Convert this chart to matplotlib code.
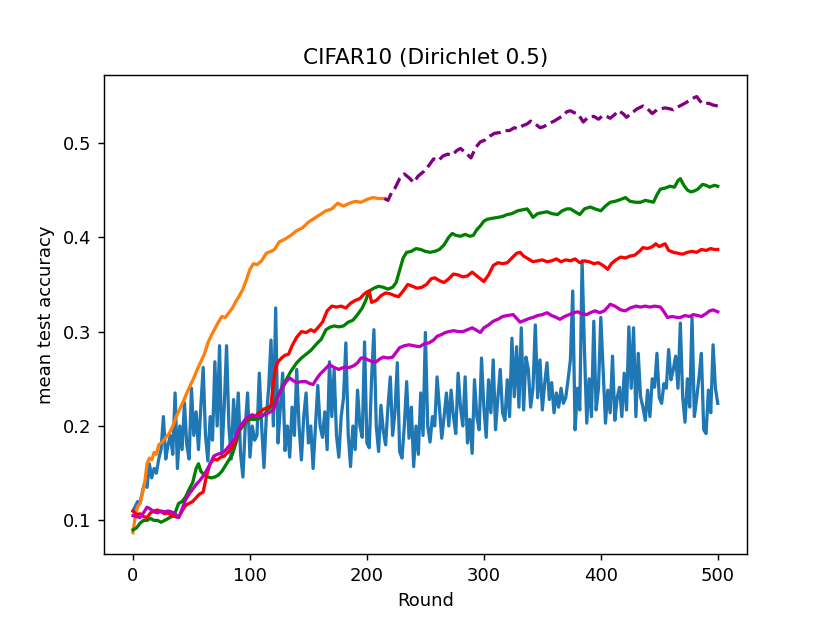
import matplotlib.pyplot as plt

# blue (noisy) series, every 2 rounds
blue_rounds = list(range(0, 501, 2))
blue_acc = [
    0.11, 0.115, 0.12, 0.118, 0.13, 0.14, 0.135, 0.16, 0.145, 0.155,
    0.15, 0.165, 0.175, 0.21, 0.165, 0.18, 0.19, 0.17, 0.235, 0.155,
    0.2, 0.175, 0.225, 0.18, 0.165, 0.24, 0.19, 0.215, 0.175, 0.22,
    0.262, 0.19, 0.163, 0.21, 0.185, 0.268, 0.2, 0.285, 0.17, 0.22,
    0.285, 0.2, 0.165, 0.228, 0.185, 0.235, 0.17, 0.146, 0.2, 0.235,
    0.167, 0.2, 0.185, 0.19, 0.256, 0.2, 0.156, 0.21, 0.24, 0.291,
    0.2, 0.325, 0.182, 0.22, 0.256, 0.174, 0.2, 0.167, 0.22, 0.19,
    0.26, 0.2, 0.164, 0.21, 0.235, 0.182, 0.2, 0.155, 0.2, 0.243,
    0.2, 0.188, 0.215, 0.175, 0.268, 0.21, 0.26, 0.19, 0.167, 0.21,
    0.23, 0.288, 0.192, 0.157, 0.2, 0.175, 0.238, 0.2, 0.188, 0.289,
    0.182, 0.177, 0.25, 0.302, 0.2, 0.173, 0.222, 0.195, 0.18, 0.22,
    0.252, 0.19, 0.215, 0.267, 0.173, 0.166, 0.2, 0.247, 0.187, 0.22,
    0.157, 0.2, 0.17, 0.235, 0.19, 0.299, 0.2, 0.183, 0.21, 0.2,
    0.252, 0.22, 0.187, 0.21, 0.235, 0.2, 0.238, 0.21, 0.192, 0.256,
    0.22, 0.2, 0.252, 0.182, 0.207, 0.171, 0.249, 0.21, 0.196, 0.272,
    0.22, 0.188, 0.249, 0.214, 0.27, 0.196, 0.23, 0.26, 0.214, 0.206,
    0.249, 0.21, 0.293, 0.231, 0.284, 0.22, 0.304, 0.217, 0.273, 0.26,
    0.22, 0.24, 0.307, 0.23, 0.27, 0.217, 0.245, 0.267, 0.228, 0.246,
    0.214, 0.235, 0.22, 0.24, 0.224, 0.23, 0.249, 0.27, 0.343, 0.196,
    0.24, 0.217, 0.375, 0.281, 0.203, 0.25, 0.21, 0.311, 0.217, 0.24,
    0.315, 0.26, 0.203, 0.238, 0.214, 0.274, 0.206, 0.23, 0.241, 0.21,
    0.256, 0.217, 0.305, 0.24, 0.304, 0.21, 0.277, 0.231, 0.22, 0.206,
    0.238, 0.21, 0.25, 0.241, 0.277, 0.23, 0.224, 0.245, 0.24, 0.281,
    0.249, 0.26, 0.274, 0.24, 0.309, 0.231, 0.204, 0.25, 0.22, 0.315,
    0.21, 0.23, 0.252, 0.277, 0.196, 0.192, 0.238, 0.214, 0.286, 0.24,
    0.224,
]

orange_rounds = [0, 2, 4, 6, 8, 10, 12, 14, 16, 18, 20, 22, 25, 28, 31, 34, 37, 40, 43, 46,
                 49, 52, 55, 58, 61, 64, 67, 70, 73, 76, 79, 82, 85, 88, 91, 94, 97, 100, 103, 106,
                 110, 114, 118, 121, 125, 130, 135, 140, 145, 150, 155, 160, 165, 170, 175, 180, 185, 190, 195, 200,
                 205, 210, 215]
orange_acc = [0.087, 0.105, 0.115, 0.118, 0.128, 0.14, 0.16, 0.166, 0.164, 0.172, 0.17, 0.18, 0.183, 0.188, 0.192, 0.2, 0.21, 0.218, 0.226, 0.235,
              0.243, 0.251, 0.26, 0.268, 0.276, 0.288, 0.296, 0.303, 0.31, 0.316, 0.315, 0.32, 0.325, 0.332, 0.338, 0.345, 0.355, 0.366, 0.372, 0.371,
              0.375, 0.383, 0.385, 0.387, 0.395, 0.398, 0.402, 0.407, 0.41, 0.416, 0.42, 0.424, 0.428, 0.43, 0.436, 0.433, 0.436, 0.438, 0.437, 0.44,
              0.442, 0.441, 0.441]

purple_rounds = [215, 218, 221, 224, 228, 232, 236, 240, 244, 249, 253, 257, 261, 265, 269, 273, 277, 280, 284, 289,
                 293, 297, 301, 305, 309, 314, 318, 322, 326, 329, 333, 337, 340, 344, 348, 351, 355, 360, 364, 368,
                 371, 374, 377, 380, 383, 385, 389, 394, 398, 402, 405, 408, 412, 415, 419, 422, 426, 431, 436, 440,
                 444, 448, 451, 455, 459, 462, 466, 469, 472, 476, 480, 482, 485, 488, 492, 496, 500]
purple_acc = [0.441, 0.439, 0.447, 0.452, 0.462, 0.467, 0.463, 0.458, 0.465, 0.47, 0.476, 0.483, 0.481, 0.486, 0.488, 0.487, 0.492, 0.494, 0.49, 0.484,
              0.495, 0.501, 0.503, 0.507, 0.51, 0.511, 0.513, 0.513, 0.516, 0.515, 0.518, 0.52, 0.523, 0.52, 0.516, 0.517, 0.52, 0.523, 0.526, 0.529,
              0.533, 0.534, 0.532, 0.531, 0.526, 0.522, 0.527, 0.528, 0.525, 0.529, 0.528, 0.526, 0.53, 0.534, 0.531, 0.527, 0.531, 0.536, 0.539, 0.536,
              0.531, 0.535, 0.536, 0.537, 0.536, 0.535, 0.538, 0.54, 0.542, 0.545, 0.548, 0.549, 0.544, 0.541, 0.542, 0.54, 0.539]

green_rounds = [0, 3, 6, 9, 12, 15, 18, 21, 24, 27, 30, 33, 36, 39, 42, 45, 48, 51, 54, 56,
                58, 61, 64, 67, 70, 73, 76, 79, 82, 85, 88, 91, 94, 97, 100, 104, 108, 112, 116, 120,
                123, 127, 131, 135, 140, 144, 148, 152, 157, 161, 165, 169, 172, 176, 180, 184, 188, 192, 196, 199,
                202, 206, 210, 214, 218, 222, 225, 228, 231, 234, 238, 242, 246, 250, 254, 258, 262, 266, 270, 273,
                276, 280, 284, 288, 291, 294, 297, 300, 303, 307, 312, 316, 320, 324, 329, 333, 337, 340, 342, 346,
                350, 354, 358, 363, 367, 371, 374, 378, 382, 386, 391, 395, 400, 404, 408, 412, 417, 421, 425, 430,
                434, 438, 442, 445, 448, 451, 455, 459, 463, 466, 468, 471, 474, 477, 480, 483, 487, 490, 493, 497,
                500]
green_acc = [0.09, 0.092, 0.097, 0.1, 0.1, 0.102, 0.1, 0.1, 0.098, 0.1, 0.102, 0.104, 0.108, 0.118, 0.12, 0.125, 0.133, 0.14, 0.155, 0.16,
             0.152, 0.148, 0.146, 0.145, 0.146, 0.148, 0.152, 0.158, 0.164, 0.17, 0.182, 0.195, 0.2, 0.206, 0.207, 0.207, 0.208, 0.212, 0.218, 0.223,
             0.23, 0.24, 0.249, 0.258, 0.267, 0.272, 0.276, 0.28, 0.287, 0.292, 0.302, 0.305, 0.306, 0.305, 0.306, 0.31, 0.312, 0.318, 0.325, 0.333,
             0.343, 0.346, 0.348, 0.347, 0.345, 0.347, 0.352, 0.365, 0.378, 0.384, 0.385, 0.388, 0.387, 0.385, 0.384, 0.385, 0.387, 0.392, 0.4, 0.404,
             0.402, 0.401, 0.403, 0.401, 0.402, 0.408, 0.412, 0.417, 0.419, 0.42, 0.421, 0.422, 0.424, 0.425, 0.428, 0.429, 0.43, 0.425, 0.421, 0.425,
             0.426, 0.427, 0.425, 0.424, 0.428, 0.43, 0.43, 0.427, 0.424, 0.43, 0.432, 0.43, 0.428, 0.433, 0.437, 0.438, 0.44, 0.442, 0.438, 0.437,
             0.437, 0.439, 0.438, 0.437, 0.445, 0.451, 0.452, 0.454, 0.453, 0.46, 0.462, 0.455, 0.45, 0.448, 0.449, 0.451, 0.456, 0.455, 0.453, 0.455,
             0.454]

red_rounds = [0, 3, 6, 9, 12, 15, 18, 21, 24, 27, 30, 33, 36, 39, 42, 45, 48, 51, 54, 57,
              60, 63, 66, 69, 72, 75, 78, 81, 84, 87, 90, 93, 96, 100, 104, 108, 112, 116, 118, 120,
              122, 124, 127, 130, 133, 136, 140, 144, 148, 152, 155, 158, 162, 166, 170, 174, 178, 182, 186, 190,
              194, 197, 200, 202, 204, 208, 212, 216, 220, 224, 227, 231, 235, 239, 243, 247, 251, 255, 258, 262,
              266, 270, 274, 278, 282, 286, 290, 293, 297, 300, 304, 308, 312, 316, 320, 324, 328, 331, 334, 338,
              342, 346, 350, 354, 358, 362, 366, 370, 374, 378, 382, 386, 390, 394, 398, 402, 406, 409, 413, 417,
              421, 425, 429, 433, 436, 440, 444, 447, 450, 453, 455, 458, 462, 466, 470, 474, 478, 482, 486, 490,
              494, 497, 500]
red_acc = [0.11, 0.106, 0.107, 0.104, 0.103, 0.108, 0.11, 0.111, 0.109, 0.107, 0.108, 0.105, 0.104, 0.103, 0.11, 0.116, 0.118, 0.12, 0.124, 0.128,
           0.13, 0.148, 0.16, 0.165, 0.164, 0.167, 0.168, 0.172, 0.176, 0.182, 0.195, 0.2, 0.205, 0.21, 0.21, 0.214, 0.218, 0.22, 0.222, 0.245,
           0.262, 0.268, 0.272, 0.275, 0.276, 0.285, 0.294, 0.3, 0.299, 0.302, 0.3, 0.304, 0.31, 0.322, 0.327, 0.326, 0.327, 0.325, 0.33, 0.333,
           0.335, 0.339, 0.342, 0.343, 0.331, 0.333, 0.338, 0.341, 0.34, 0.338, 0.337, 0.343, 0.35, 0.348, 0.346, 0.347, 0.35, 0.356, 0.357, 0.354,
           0.352, 0.356, 0.361, 0.36, 0.358, 0.359, 0.363, 0.36, 0.356, 0.353, 0.36, 0.37, 0.373, 0.372, 0.373, 0.378, 0.383, 0.384, 0.38, 0.377,
           0.374, 0.375, 0.376, 0.374, 0.375, 0.377, 0.374, 0.376, 0.375, 0.377, 0.373, 0.375, 0.374, 0.372, 0.373, 0.37, 0.366, 0.372, 0.376, 0.379,
           0.378, 0.38, 0.381, 0.385, 0.389, 0.388, 0.39, 0.393, 0.39, 0.392, 0.393, 0.386, 0.384, 0.383, 0.382, 0.384, 0.385, 0.384, 0.387, 0.386,
           0.388, 0.387, 0.387]

magenta_rounds = [0, 3, 6, 9, 12, 15, 18, 21, 24, 27, 30, 33, 36, 39, 42, 45, 48, 51, 54, 57,
                  60, 63, 66, 69, 72, 75, 78, 81, 84, 87, 90, 93, 96, 99, 102, 105, 108, 112, 116, 120,
                  122, 124, 126, 128, 131, 134, 137, 140, 144, 148, 151, 154, 157, 160, 164, 168, 172, 176, 180, 185,
                  189, 192, 195, 198, 201, 205, 208, 211, 214, 218, 222, 225, 228, 232, 236, 240, 245, 249, 253, 257,
                  260, 264, 267, 270, 274, 278, 282, 286, 290, 293, 297, 300, 304, 308, 312, 316, 320, 325, 328, 331,
                  335, 339, 342, 346, 350, 354, 358, 362, 365, 369, 373, 377, 380, 384, 388, 391, 395, 399, 403, 406,
                  408, 412, 417, 421, 425, 430, 434, 438, 442, 446, 451, 454, 457, 461, 465, 468, 472, 476, 479, 483,
                  486, 490, 493, 496, 500]
magenta_acc = [0.105, 0.104, 0.103, 0.108, 0.114, 0.112, 0.109, 0.108, 0.11, 0.109, 0.11, 0.109, 0.107, 0.103, 0.112, 0.122, 0.128, 0.133, 0.138, 0.142,
               0.147, 0.153, 0.16, 0.168, 0.17, 0.171, 0.173, 0.177, 0.182, 0.186, 0.195, 0.202, 0.207, 0.21, 0.212, 0.21, 0.21, 0.212, 0.214, 0.217,
               0.224, 0.231, 0.236, 0.241, 0.247, 0.251, 0.248, 0.246, 0.247, 0.247, 0.245, 0.244, 0.25, 0.255, 0.26, 0.265, 0.262, 0.26, 0.262, 0.262,
               0.264, 0.267, 0.272, 0.272, 0.27, 0.268, 0.268, 0.271, 0.273, 0.272, 0.273, 0.278, 0.283, 0.285, 0.286, 0.285, 0.284, 0.287, 0.288, 0.291,
               0.295, 0.297, 0.299, 0.3, 0.301, 0.3, 0.3, 0.302, 0.304, 0.302, 0.299, 0.304, 0.307, 0.311, 0.313, 0.316, 0.317, 0.318, 0.314, 0.31,
               0.312, 0.314, 0.315, 0.317, 0.318, 0.32, 0.317, 0.315, 0.313, 0.316, 0.318, 0.32, 0.321, 0.319, 0.318, 0.32, 0.322, 0.32, 0.322, 0.326,
               0.329, 0.327, 0.323, 0.322, 0.325, 0.327, 0.326, 0.327, 0.326, 0.327, 0.326, 0.321, 0.315, 0.316, 0.315, 0.315, 0.317, 0.316, 0.318, 0.317,
               0.316, 0.319, 0.322, 0.323, 0.321]

lw = 1.8

fig = plt.figure(figsize=(8.3 / 1.3, 6.23 / 1.3), dpi=130)
plt.plot(blue_rounds, blue_acc, linewidth=lw)
plt.plot(orange_rounds, orange_acc, linewidth=lw)
plt.plot(green_rounds, green_acc, color='g', linewidth=lw)
plt.plot(red_rounds, red_acc, color='r', linewidth=lw)
plt.plot(magenta_rounds, magenta_acc, color='m', linewidth=lw)
plt.plot(purple_rounds, purple_acc, color='purple', linestyle='--', linewidth=lw)

plt.title('CIFAR10 (Dirichlet 0.5)')
plt.xlabel('Round')
plt.ylabel('mean test accuracy')

plt.savefig('out.png')
plt.close()
